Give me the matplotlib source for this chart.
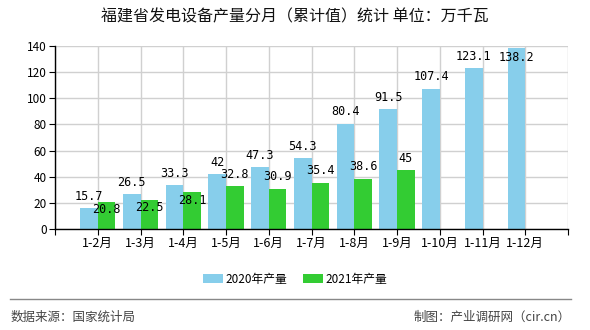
import matplotlib
matplotlib.use("Agg")
import matplotlib.pyplot as plt
import numpy as np

plt.rcParams['font.family'] = ['Noto Sans CJK SC', 'DejaVu Sans']

title = "福建省发电设备产量分月（累计值）统计 单位：万千瓦"
categories = ["1-2月", "1-3月", "1-4月", "1-5月", "1-6月", "1-7月", "1-8月",
              "1-9月", "1-10月", "1-11月", "1-12月"]
series_2020 = [15.7, 26.5, 33.3, 42, 47.3, 54.3, 80.4, 91.5, 107.4, 123.1, 138.2]
series_2021 = [20.8, 22.5, 28.1, 32.8, 30.9, 35.4, 38.6, 45]
labels = ["2020年产量", "2021年产量"]
yticks = [0, 20, 40, 60, 80, 100, 120, 140]
source_text = "数据来源：国家统计局"
credit_text = "制图：产业调研网（cir.cn）"

c2020 = "#87CEEB"
c2021 = "#33CC33"

fig = plt.figure(figsize=(5.9, 3.3), dpi=100)
ax = fig.add_axes([55/590, 1-229/330, 513/590, 183/330])

n = len(categories)
x = np.arange(1, n + 1)
w = 0.41
b1 = ax.bar(x - w/2, series_2020, width=w, color=c2020, label=labels[0], zorder=3)
x2 = x[:len(series_2021)]
b2 = ax.bar(x2 + w/2, series_2021, width=w, color=c2021, label=labels[1], zorder=3)

ymax = 140
ax.set_ylim(0, ymax)
ax.set_xlim(0, n + 1)
ax.set_yticks(yticks)
ax.set_xticks(np.arange(0, n + 2))
ax.set_xticklabels([""] + categories + [""])
ax.tick_params(axis='both', labelsize=8.5, length=4, color='black', pad=2)
ax.tick_params(axis='x', labelsize=9)
ax.grid(True, color='#d0d0d0', linewidth=1, zorder=0)
ax.set_axisbelow(True)
for s in ['top', 'right']:
    ax.spines[s].set_visible(False)
for s in ['left', 'bottom']:
    ax.spines[s].set_color('black')
    ax.spines[s].set_linewidth(1)
    ax.spines[s].set_zorder(4)

lab_font = dict(fontsize=8.5, family=['DejaVu Sans Mono', 'DejaVu Sans'], zorder=5)

def fmt(v):
    return f"{v:g}"

for i, v in enumerate(series_2020):
    dy = 12 if v < ymax - 5 else -9
    ax.annotate(fmt(v), (x[i] - w/2, v), xytext=(0, dy), textcoords='offset pixels',
                ha='center', va='center', **lab_font)
for i, v in enumerate(series_2021):
    other = series_2020[i]
    dy = -8 if abs(other - v) < 7 else 12
    ax.annotate(fmt(v), (x2[i] + w/2, v), xytext=(0, dy), textcoords='offset pixels',
                ha='center', va='center', **lab_font)

fig.text(0.5, 1 - 17/330, title, ha='center', va='center', fontsize=11.5, color='#111111')

fig.legend(handles=[b1, b2], labels=labels, loc='center', bbox_to_anchor=(0.5, 1 - 279/330),
           ncol=2, frameon=False, fontsize=8.5, handlelength=1.7, handleheight=0.75,
           columnspacing=1.3, handletextpad=0.25)

fig.add_artist(plt.Line2D([10/590, 571/590], [1 - 298.5/330, 1 - 298.5/330],
                          color='#888888', linewidth=1))
fig.text(11/590, 1 - 317/330, source_text, ha='left', va='center', fontsize=9, color='#444444')
fig.text(571/590, 1 - 317/330, credit_text, ha='right', va='center', fontsize=9, color='#444444')

fig.savefig("out.png", dpi=100)
